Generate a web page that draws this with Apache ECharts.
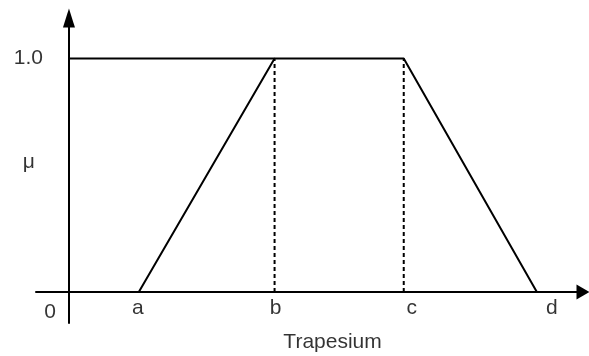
<!DOCTYPE html>
<html>
<head>
<meta charset="utf-8">
<script src="https://cdn.jsdelivr.net/npm/echarts@6/dist/echarts.min.js"></script>
<style>
  html, body { margin: 0; padding: 0; background: #fff; }
  #chart { width: 589px; height: 356px; }
</style>
</head>
<body>
<div id="chart"></div>
<script>
// trapezoid membership function
const pointNames = ['a', 'b', 'c', 'd'];
const pointX = [1.06, 3.12, 5.08, 7.1];
const membership = [0, 1, 1, 0];
const topLevel = 1;
const originLabel = '0';
const topLabel = '1.0';
const yName = 'μ';
const yNameAt = 0.555;
const xName = 'Trapesium';
const xNameAt = 4.0;

const font = '"Liberation Sans", Arial, sans-serif';
// labels c and d sit a bit right of their points in the picture
const nameShift = [-1, 1, 8, 15];

const trapezoid = pointX.map((x, i) => [x, membership[i]]);

function txt(text, extra) {
  return Object.assign({
    show: true, formatter: text, color: '#000', fontSize: 21, fontFamily: font
  }, extra);
}

const chart = echarts.init(document.getElementById('chart'));

chart.setOption({
  animation: false,
  grid: { left: 36, right: 6, top: 18, bottom: 33, outerBoundsMode: 'none' },
  xAxis: {
    type: 'value',
    min: -0.5,
    max: 7.8,
    axisLine: {
      onZero: true,
      symbol: ['none', 'triangle'],
      symbolSize: [15, 13],
      lineStyle: { color: '#000', width: 2 }
    },
    axisTick: { show: false },
    axisLabel: { show: false },
    splitLine: { show: false }
  },
  yAxis: {
    type: 'value',
    min: -0.133,
    max: 1.174,
    axisLine: {
      onZero: true,
      symbol: ['none', 'triangle'],
      symbolSize: [12, 19],
      lineStyle: { color: '#000', width: 2 }
    },
    axisTick: { show: false },
    axisLabel: { show: false },
    splitLine: { show: false }
  },
  series: [
    {
      // level line 1.0
      type: 'line',
      data: [[0, topLevel], [pointX[1], topLevel]],
      symbol: 'none',
      lineStyle: { color: '#000', width: 2 }
    },
    {
      type: 'line',
      data: trapezoid,
      symbol: 'none',
      lineStyle: { color: '#000', width: 2 }
    },
    {
      type: 'line',
      data: [[pointX[1], 0], [pointX[1], topLevel]],
      symbol: 'none',
      lineStyle: { color: '#000', width: 2, type: [4, 3] }
    },
    {
      type: 'line',
      data: [[pointX[2], 0], [pointX[2], topLevel]],
      symbol: 'none',
      lineStyle: { color: '#000', width: 2, type: [4, 3] }
    },
    {
      // text labels
      type: 'scatter',
      symbolSize: 0,
      silent: true,
      data: pointX.map((x, i) => ({
        value: [x, 0],
        label: txt(pointNames[i], { position: 'bottom', distance: 6, offset: [nameShift[i], 0] })
      })).concat([
        { value: [0, 0], label: txt(originLabel, { position: 'left', distance: 13, offset: [0, 20] }) },
        { value: [0, topLevel], label: txt(topLabel, { position: 'left', distance: 26 }) },
        { value: [0, yNameAt], label: txt(yName, { position: 'left', distance: 34 }) },
        { value: [xNameAt, 0], label: txt(xName, { position: 'bottom', distance: 40 }) }
      ])
    }
  ]
});
</script>
</body>
</html>
